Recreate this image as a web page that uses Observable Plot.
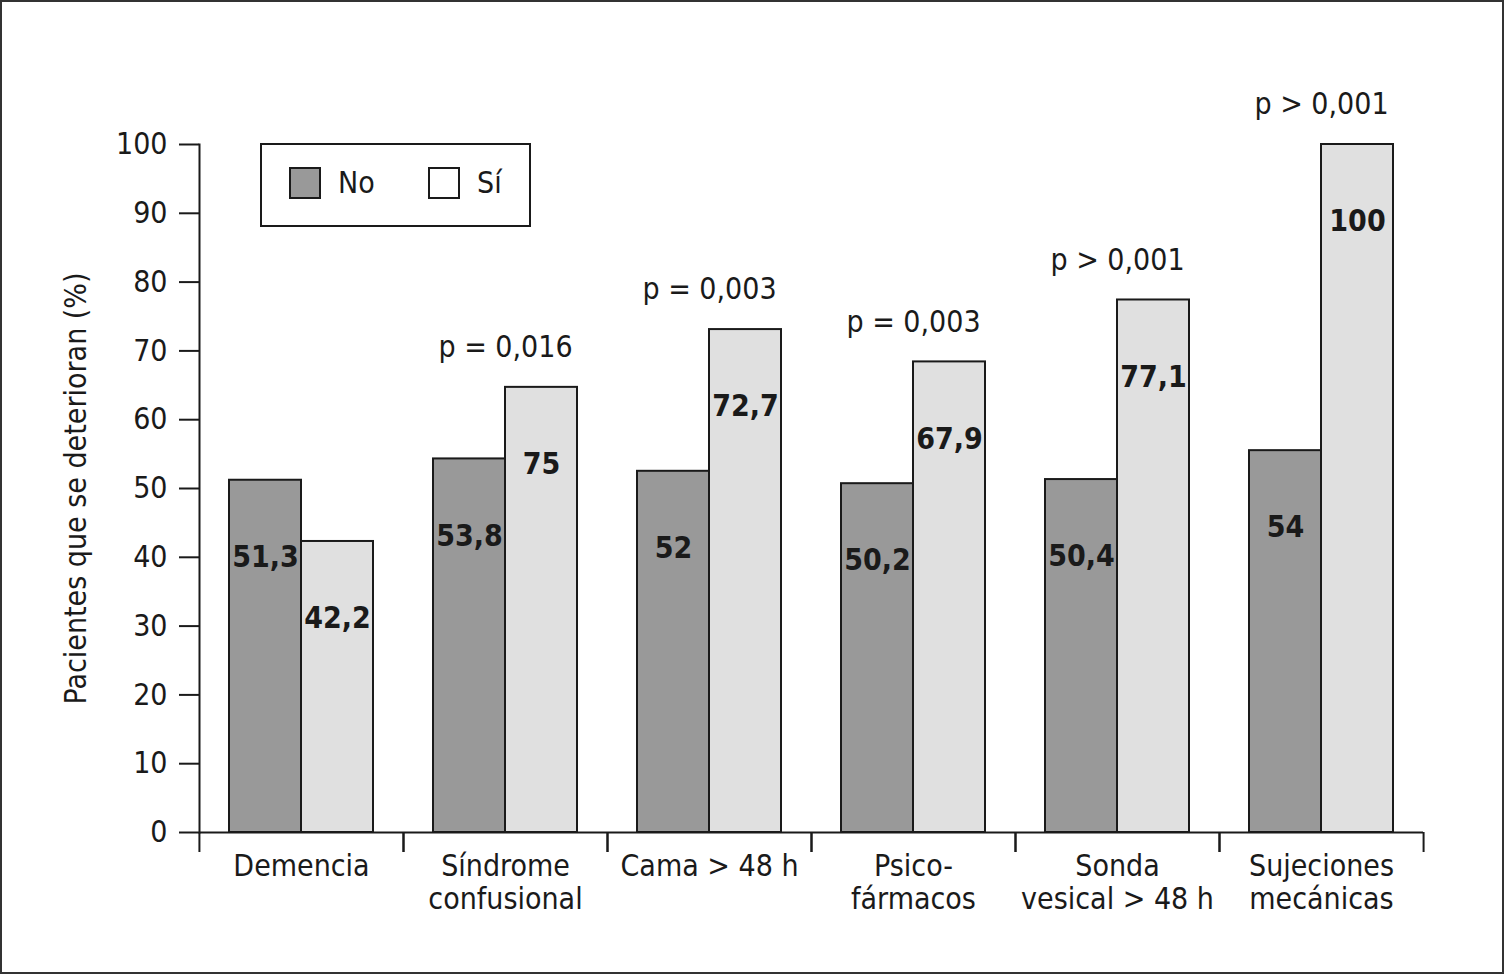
<!DOCTYPE html>
<html><head><meta charset="utf-8">
<script src="https://cdn.jsdelivr.net/npm/d3@7"></script>
<script src="https://cdn.jsdelivr.net/npm/@observablehq/plot@0.6"></script>
<style>
body{margin:0;background:#fff;}
#wrap{position:relative;width:1504px;height:974px;font-family:"Liberation Sans Narrow","DejaVu Sans Condensed",sans-serif;color:#1a1a1a;}
#border{position:absolute;left:0;top:0;width:1504px;height:974px;box-sizing:border-box;border:2px solid #333;pointer-events:none;}
#legend{position:absolute;left:260px;top:143px;width:271px;height:84px;box-sizing:border-box;border:2px solid #1a1a1a;background:#fff;}
.sw{position:absolute;top:22px;width:32px;height:32px;box-sizing:border-box;border:2px solid #1a1a1a;}
.lt{position:absolute;top:18px;font-size:30px;line-height:40px;}
</style></head><body>
<div id="wrap">
  <div id="chart"></div>
  <div id="legend">
    <div class="sw" style="left:27px;background:#999999"></div><div class="lt" style="left:76px">No</div>
    <div class="sw" style="left:166px;background:#ffffff"></div><div class="lt" style="left:215px">Sí</div>
  </div>
  <div id="border"></div>
</div>
<script>
const categories = ["Demencia", "Síndrome\nconfusional", "Cama > 48 h", "Psico-\nfármacos", "Sonda\nvesical > 48 h", "Sujeciones\nmecánicas"];
const groups = ["No", "Sí"];
const valuesNo = [51.2, 54.3, 52.5, 50.7, 51.3, 55.5];
const valuesSi = [42.3, 64.7, 73.1, 68.4, 77.4, 100];
const labelsNo = ["51,3", "53,8", "52", "50,2", "50,4", "54"];
const labelsSi = ["42,2", "75", "72,7", "67,9", "77,1", "100"];
const pLabels = ["", "p = 0,016", "p = 0,003", "p = 0,003", "p > 0,001", "p > 0,001"];
const yTicks = [0, 10, 20, 30, 40, 50, 60, 70, 80, 90, 100];
const colors = ["#999999", "#e0e0e0"];

const data = categories.flatMap((c, i) => [
  {cat: c, group: groups[0], value: valuesNo[i], label: labelsNo[i]},
  {cat: c, group: groups[1], value: valuesSi[i], label: labelsSi[i]}
]);
const pData = categories.map((c, i) => ({cat: c, top: Math.max(valuesNo[i], valuesSi[i]), p: pLabels[i]})).filter(d => d.p);

const W = 1504, H = 974, mL = 198, mR = 81, mT = 144, mB = 142;
const half = (W - mL - mR) / categories.length / 2;
const ink = "#1a1a1a";
const font = "'Liberation Sans Narrow','DejaVu Sans Condensed',sans-serif";

const chart = Plot.plot({
  width: W, height: H,
  marginLeft: mL, marginRight: mR, marginTop: mT, marginBottom: mB,
  style: {fontFamily: font, color: ink, background: "transparent"},
  fx: {domain: categories, padding: 0},
  x: {domain: groups, paddingInner: 0, paddingOuter: 0.4, axis: null},
  y: {domain: [0, 100]},
  color: {domain: groups, range: colors},
  marks: [
    Plot.barY(data, {fx: "cat", x: "group", y: "value", fill: "group", stroke: ink, strokeWidth: 2}),
    Plot.ruleY([0], {stroke: ink, strokeWidth: 2}),
    Plot.frame({anchor: "left", facetAnchor: "left", stroke: ink, strokeWidth: 2}),
    Plot.text(data, {fx: "cat", x: "group", y: "value", text: "label", dy: 77, fontSize: 30, fontWeight: "bold", fill: ink}),
    Plot.text(pData, {fx: "cat", y: "top", text: "p", dy: -40, fontSize: 30, fill: ink}),
    Plot.axisY({ticks: yTicks, tickSize: 20, tickPadding: 12, fontSize: 30, strokeWidth: 2, label: "Pacientes que se deterioran (%)", labelAnchor: "center", labelOffset: 135, labelArrow: "none"}),
    Plot.axisFx({anchor: "bottom", tickSize: 0, tickPadding: 20, fontSize: 30, lineHeight: 1.1, label: null}),
    Plot.axisFx({anchor: "bottom", tickSize: 20, tickFormat: () => "", dx: -half, strokeWidth: 2, label: null}),
    Plot.axisFx({anchor: "bottom", tickSize: 20, tickFormat: () => "", dx: half, strokeWidth: 2, label: null})
  ]
});
document.getElementById("chart").appendChild(chart);
</script>
</body></html>
